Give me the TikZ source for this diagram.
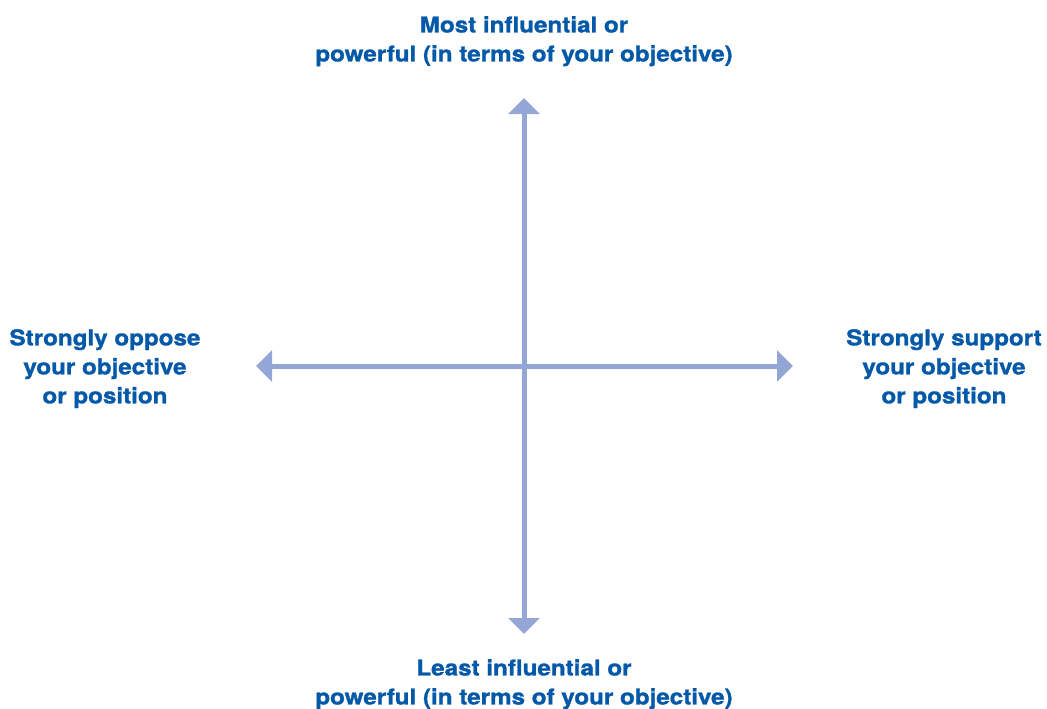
\documentclass[tikz,border=0pt]{standalone}
\usepackage{fontspec}
\setmainfont{TeX Gyre Heros}[BoldFeatures={FakeStretch=1.11, FakeBold=1.2}]
\usetikzlibrary{arrows.meta}
\definecolor{axisblue}{RGB}{148,166,214}
\definecolor{labelblue}{RGB}{4,88,168}
\tikzset{every picture/.append style={x=1pt, y=-1pt}}
\tikzset{
    axislabel/.style={align=center, inner sep=0pt, anchor=north, text=labelblue,
    	font={\fontsize{21.8}{29}\selectfont\bfseries}},
    axis/.style={draw=axisblue, line width=5pt,
    	{Triangle[width=31pt, length=16pt]}-{Triangle[width=31pt, length=16pt]}}
}

\begin{document}
\begin{tikzpicture}
	\useasboundingbox (0,0) rectangle (1047,709);
	\coordinate (top) at (524,98);
	\coordinate (bottom) at (524,634);
	\coordinate (left) at (256,366);
	\coordinate (right) at (793,366);
	
	\node (most) [axislabel] at (524,16) {Most influential or\\powerful (in terms of your objective)};
	\node (least) [axislabel] at (524,659) {Least influential or\\powerful (in terms of your objective)};
	\node (oppose) [axislabel] at (105,329) {Strongly oppose\\your objective\\or position};
	\node (support) [axislabel] at (944,329) {Strongly support\\your objective\\or position};
	
	\draw [axis] (top) -- (bottom);
	\draw [axis] (left) -- (right);
\end{tikzpicture}
\end{document}
